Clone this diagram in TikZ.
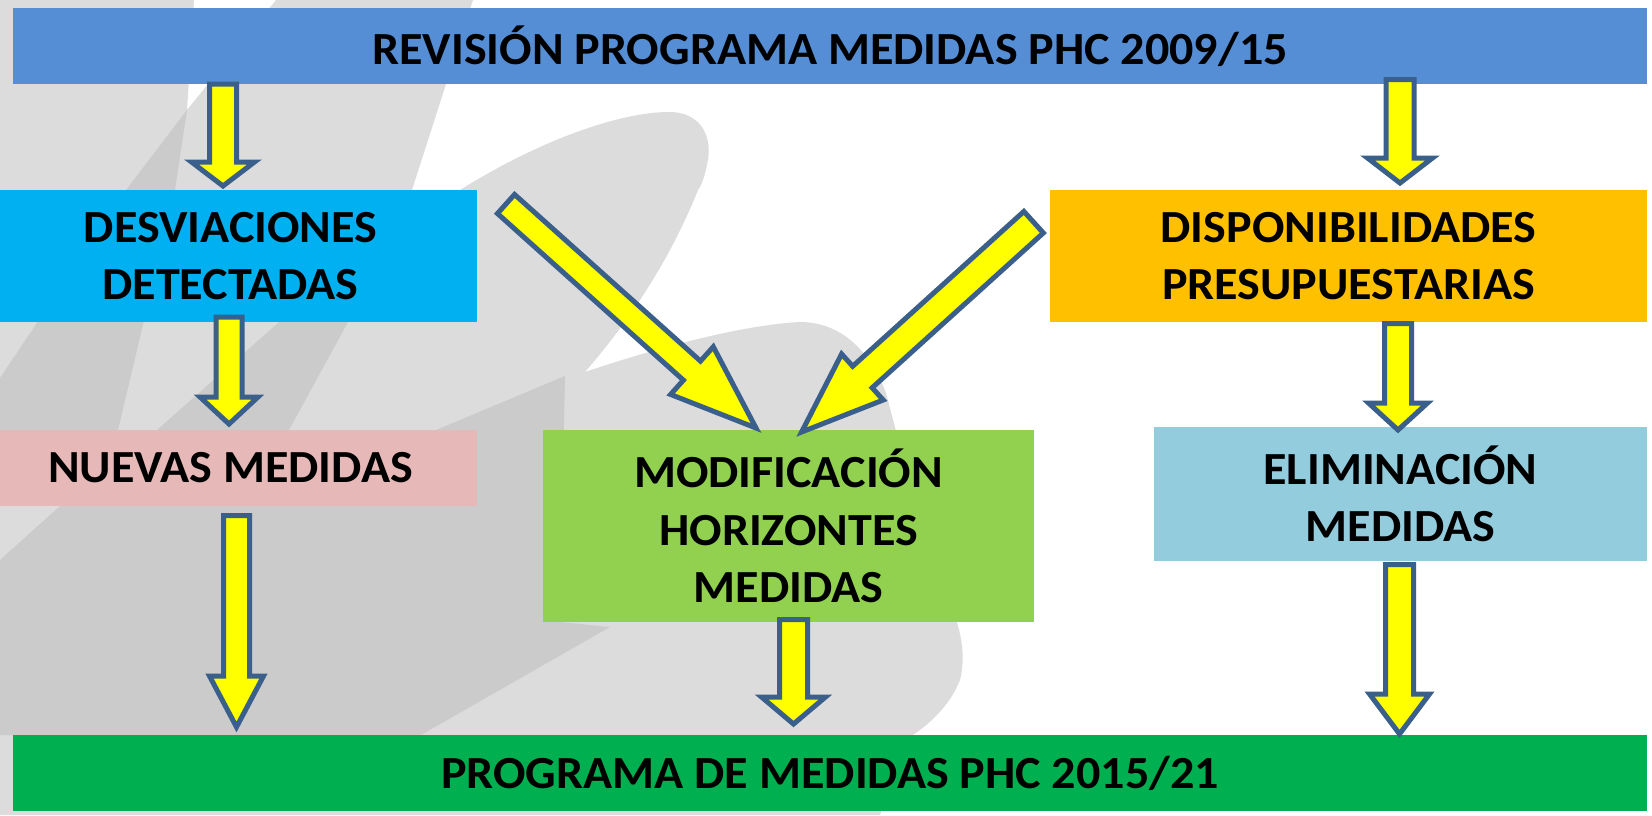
\documentclass[tikz,border=0pt]{standalone}
\usepackage{fontspec}
\setmainfont{Carlito}[FakeStretch=1.045]
\usetikzlibrary{calc}
\definecolor{ctop}{HTML}{558ED5}
\definecolor{cdesv}{HTML}{00B0F0}
\definecolor{cdisp}{HTML}{FFC000}
\definecolor{cnuev}{HTML}{E6B9B8}
\definecolor{cmod}{HTML}{92D050}
\definecolor{celim}{HTML}{93CDDD}
\definecolor{cbot}{HTML}{00B050}
\definecolor{cline}{HTML}{3A5F8B}
\definecolor{cyel}{HTML}{FFFF00}
\definecolor{bglight}{HTML}{DCDCDC}
\definecolor{bgdark}{HTML}{CBCBCB}
\tikzset{
  boxnode/.style={rectangle, draw=none, inner sep=0pt, align=center,
    font=\fontsize{46}{57.5}\selectfont\bfseries},
  bignode/.style={boxnode, font=\fontsize{46}{57.5}\selectfont\bfseries},
  barrow/.style={fill=cyel, draw=cline, line width=5pt, line join=miter, miter limit=20},
}
\newcommand\blockarrow[5]{%
  \coordinate (bamid) at ($(#2)!#5!(#1)$);
  \draw[barrow] ($(#1)!#3!90:(#2)$) -- ($(bamid)!#3!90:(#2)$) -- ($(bamid)!#4!90:(#2)$)
    -- (#2) -- ($(bamid)!#4!-90:(#2)$) -- ($(bamid)!#3!-90:(#2)$) -- ($(#1)!#3!-90:(#2)$) -- cycle;}
\begin{document}
\begin{tikzpicture}[x=1pt,y=-1pt]
\useasboundingbox (0,0) rectangle (1652,815);
\fill[white] (0,0) rectangle (1652,815);
% background swooshes
\fill[bglight] (0,0) -- (194,0) -- (187,110) -- (276,0) -- (473,0) -- (412,190) -- (440,215)
  -- (460,190) .. controls (540,140) and (620,112) .. (669,112)
  .. controls (700,112) and (712,135) .. (708,160)
  .. controls (705,175) and (702,185) .. (698,190)
  .. controls (670,260) and (630,320) .. (585,372)
  .. controls (650,350) and (740,325) .. (800,322)
  .. controls (840,322) and (870,350) .. (886,393) -- (930,560)
  .. controls (950,600) and (970,640) .. (960,680)
  .. controls (950,705) and (930,725) .. (905,740) -- (880,815) -- (0,815) -- cycle;
\fill[bgdark] (187,110) -- (175,190) -- (118,430) -- (0,430) -- (0,378) -- (126,190) -- cycle;
\fill[bgdark] (304,300) -- (360,300) -- (289,430) -- (157,430) -- cycle;
\fill[bgdark] (0,560) -- (60,506) -- (436,430) -- (565,376) -- (560,622) -- (610,627) -- (421,735) -- (0,735) -- cycle;
% boxes
\node[bignode, fill=ctop, minimum width=1634pt, minimum height=76pt] (top) at (830,46) {REVISIÓN PROGRAMA MEDIDAS PHC 2009/15};
\node[boxnode, fill=cdesv, minimum width=493pt, minimum height=132pt] (desv) at (230.5,256) {DESVIACIONES\\DETECTADAS};
\node[boxnode, fill=cdisp, minimum width=597pt, minimum height=132pt] (disp) at (1348.5,256) {DISPONIBILIDADES\\PRESUPUESTARIAS};
\node[boxnode, fill=cnuev, minimum width=493pt, minimum height=76pt] (nuev) at (230.5,468) {NUEVAS MEDIDAS};
\node[boxnode, fill=cmod, minimum width=491pt, minimum height=192pt] (mod) at (788.5,526) {MODIFICACIÓN\\HORIZONTES\\MEDIDAS};
\node[boxnode, fill=celim, minimum width=493pt, minimum height=134pt] (elim) at (1400.5,494) {ELIMINACIÓN\\MEDIDAS};
\node[bignode, fill=cbot, minimum width=1634pt, minimum height=76pt] (bot) at (830,773) {PROGRAMA DE MEDIDAS PHC 2015/21};
% arrow end points
\coordinate (a1s) at (223,84);     \coordinate (a1e) at (223,186);
\coordinate (a2s) at (229,317);    \coordinate (a2e) at (229,424);
\coordinate (a3s) at (236.5,515.5);\coordinate (a3e) at (236.5,727);
\coordinate (a4s) at (793.5,619.5);\coordinate (a4e) at (793.5,724);
\coordinate (a5s) at (1400,79.5);  \coordinate (a5e) at (1400,183);
\coordinate (a6s) at (1398,323.5); \coordinate (a6e) at (1398,430);
\coordinate (a7s) at (1399.5,564.5);\coordinate (a7e) at (1399.5,734);
\coordinate (a8s) at (506,204);    \coordinate (a8e) at (756,428);
\coordinate (a9s) at (1033.6,222.2);\coordinate (a9e) at (801.6,432);
% arrows
\blockarrow{a1s}{a1e}{13.5pt}{31.5pt}{24pt}
\blockarrow{a2s}{a2e}{13pt}{29pt}{27pt}
\blockarrow{a3s}{a3e}{13pt}{27pt}{51pt}
\blockarrow{a4s}{a4e}{14pt}{32pt}{27pt}
\blockarrow{a5s}{a5e}{14pt}{32.5pt}{25pt}
\blockarrow{a6s}{a6e}{13.5pt}{29.5pt}{27pt}
\blockarrow{a7s}{a7e}{14pt}{30pt}{40pt}
\blockarrow{a8s}{a8e}{12.8pt}{32pt}{86pt}
\blockarrow{a9s}{a9e}{14.5pt}{31pt}{82pt}
\end{tikzpicture}
\end{document}
